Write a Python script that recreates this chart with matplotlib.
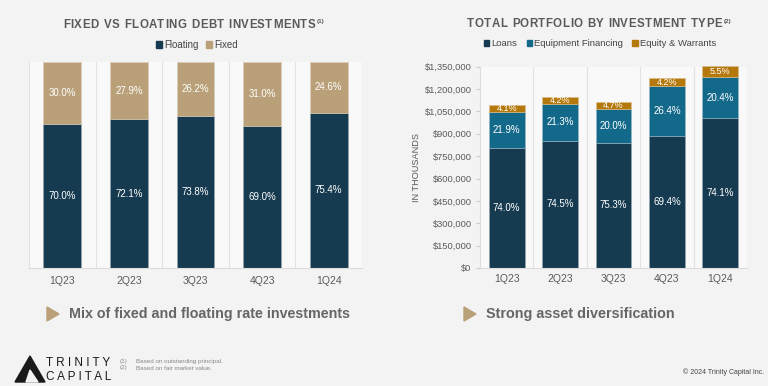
import matplotlib
matplotlib.use("Agg")
import matplotlib.pyplot as plt
from matplotlib.patches import Polygon, Patch

plt.rcParams['font.family'] = ['Liberation Sans', 'DejaVu Sans']

# ---- data ----
quarters = ["1Q23", "2Q23", "3Q23", "4Q23", "1Q24"]
floating_pct = [70.0, 72.1, 73.8, 69.0, 75.4]
fixed_pct = [30.0, 27.9, 26.2, 31.0, 24.6]

loans = [807, 855, 840, 883, 1003]           # $ thousands
equipment = [239, 244, 223, 336, 276]
equity = [45, 48, 52, 53, 74]
loans_pct = [74.0, 74.5, 75.3, 69.4, 74.1]
equipment_pct = [21.9, 21.3, 20.0, 26.4, 20.4]
equity_pct = [4.1, 4.2, 4.7, 4.2, 5.5]
y_ticks = [0, 150000, 300000, 450000, 600000, 750000, 900000, 1050000, 1200000, 1350000]

NAVY = "#163a4f"
TAN = "#b9a078"
TEAL = "#13698a"
GOLD = "#b5780b"
GRAY = "#5a5a5a"
BG = "#f3f3f3"

fig = plt.figure(figsize=(7.68, 3.86), dpi=100)
fig.patch.set_facecolor(BG)
renderer = fig.canvas.get_renderer()

def px(x, y):
    return x / 768, 1 - y / 386

def tracked(s, x_left, x_right, y, **kw):
    """Place characters one by one so the string spans x_left..x_right (pixels)."""
    widths = []
    for ch in s:
        t = fig.text(0, 0, ch if ch != " " else "n", **kw)
        w = t.get_window_extent(renderer).width
        if ch == " ":
            w *= 0.55
        widths.append(w)
        t.remove()
    extra = (x_right - x_left - sum(widths)) / (len(s) - 1)
    cx = x_left
    for ch, w in zip(s, widths):
        if ch != " ":
            fig.text(*px(cx, y), ch, ha="left", va="center", **kw)
        cx += w + extra

# ---- left chart ----
axL = fig.add_axes([29 / 768, (386 - 268) / 386, 333 / 768, 206 / 386])
axL.set_facecolor("#f9f9f9")
x = range(len(quarters))
axL.bar(x, floating_pct, width=0.57, color=NAVY, edgecolor="#9aa8b0", linewidth=0.4, label="Floating")
axL.bar(x, fixed_pct, width=0.57, bottom=floating_pct, color=TAN, edgecolor="#d8ccb4", linewidth=0.4, label="Fixed")
for i in x:
    axL.text(i, floating_pct[i] / 2, f"{floating_pct[i]:.1f}%", ha="center", va="center", color="white", fontsize=7)
    axL.text(i, floating_pct[i] + fixed_pct[i] / 2, f"{fixed_pct[i]:.1f}%", ha="center", va="center", color="white", fontsize=7)
axL.set_xlim(-0.5, 4.5)
axL.set_ylim(0, 100)
axL.set_yticks([])
axL.set_xticks(list(x))
axL.set_xticklabels(quarters, color=GRAY, fontsize=7.5)
axL.tick_params(axis="x", length=0, pad=6)
for b in [-0.5, 0.5, 1.5, 2.5, 3.5, 4.5]:
    axL.axvline(b, color="#e2e2e2", lw=0.8, zorder=0)
for s in ["top", "right", "left"]:
    axL.spines[s].set_visible(False)
axL.spines["bottom"].set_color("#dddddd")

# ---- right chart ----
axR = fig.add_axes([480 / 768, (386 - 268) / 386, 267 / 768, 201.3 / 386])
axR.set_facecolor("#f9f9f9")
kw = dict(width=0.67, linewidth=0.4, clip_on=False)
axR.bar(x, loans, color=NAVY, edgecolor="#9aa8b0", label="Loans", **kw)
axR.bar(x, equipment, bottom=loans, color=TEAL, edgecolor="#9ab8c4", label="Equipment Financing", **kw)
bot3 = [loans[i] + equipment[i] for i in x]
axR.bar(x, equity, bottom=bot3, color=GOLD, edgecolor="#d8c090", label="Equity & Warrants", **kw)
for i in x:
    axR.text(i, loans[i] / 2, f"{loans_pct[i]:.1f}%", ha="center", va="center", color="white", fontsize=7)
    axR.text(i, loans[i] + equipment[i] / 2, f"{equipment_pct[i]:.1f}%", ha="center", va="center", color="white", fontsize=7)
    axR.text(i, bot3[i] + equity[i] / 2, f"{equity_pct[i]:.1f}%", ha="center", va="center", color="white", fontsize=6.5)
axR.set_xlim(-0.5, 4.5)
axR.set_ylim(0, 1350)
axR.set_yticks([t / 1000 for t in y_ticks])
axR.set_yticklabels(["$" + f"{t:,}" for t in y_ticks], color=GRAY, fontsize=6.7)
axR.tick_params(axis="y", length=3, color="#cccccc", pad=3)
axR.set_xticks(list(x))
axR.set_xticklabels(quarters, color=GRAY, fontsize=7.5)
axR.tick_params(axis="x", length=0, pad=4)
for b in [0.5, 1.5, 2.5, 3.5, 4.5]:
    axR.axvline(b, color="#e2e2e2", lw=0.8, zorder=0)
for s in ["top", "right"]:
    axR.spines[s].set_visible(False)
axR.spines["left"].set_color("#dddddd")
axR.spines["bottom"].set_color("#dddddd")
axR.set_ylabel("IN THOUSANDS", color=GRAY, fontsize=6.6)
axR.yaxis.set_label_coords((421 - 480) / 267, 0.5)

# ---- titles and legends ----
tkw = dict(fontsize=8.3, fontweight="bold", color=GRAY)
tracked("FIXED VS FLOATING DEBT INVESTMENTS", 63, 315, 25, **tkw)
fig.text(*px(317, 22), "(1)", ha="left", va="center", fontsize=4.5, fontweight="bold", color=GRAY)
tracked("TOTAL PORTFOLIO BY INVESTMENT TYPE", 467, 722, 24, **tkw)
fig.text(*px(724, 21), "(2)", ha="left", va="center", fontsize=4.5, fontweight="bold", color=GRAY)

legL = fig.legend(handles=[Patch(color=NAVY, label="Floating"), Patch(color=TAN, label="Fixed")],
                  loc="center", bbox_to_anchor=px(197, 45), ncol=2, frameon=False, fontsize=7,
                  handlelength=0.6, handleheight=0.6, handletextpad=0.2, columnspacing=0.8)
for t in legL.get_texts():
    t.set_color("#444444")
legR = fig.legend(handles=[Patch(color=NAVY, label="Loans"), Patch(color=TEAL, label="Equipment Financing"),
                           Patch(color=GOLD, label="Equity & Warrants")],
                  loc="center", bbox_to_anchor=px(600, 44), ncol=3, frameon=False, fontsize=6.8,
                  handlelength=0.6, handleheight=0.6, handletextpad=0.2, columnspacing=1.0)
for t in legR.get_texts():
    t.set_color("#444444")

# ---- bottom callouts ----
for (x0, y0, label, fs) in [(47, 314, "Mix of fixed and floating rate investments", 10.3),
                            (464, 314, "Strong asset diversification", 10.4)]:
    tri = Polygon([px(x0, y0 - 7), px(x0, y0 + 7), px(x0 + 12, y0)], closed=True,
                  transform=fig.transFigure, color=TAN)
    fig.patches.append(tri)
    fig.text(*px(x0 + 22, y0), label, ha="left", va="center", fontsize=fs, fontweight="bold", color="#666666")

# ---- logo ----
logo = Polygon([px(15, 382), px(30, 356), px(45, 382)], closed=True, transform=fig.transFigure, color="#1a1a1a")
fig.patches.append(logo)
cut = Polygon([px(30, 370), px(38, 382), px(26, 382)], closed=True, transform=fig.transFigure, color=BG)
fig.patches.append(cut)
fig.text(*px(46, 363), "T R I N I T Y", ha="left", va="center", fontsize=8.5, color="#1a1a1a")
fig.text(*px(46, 377), "C A P I T A L", ha="left", va="center", fontsize=8.5, color="#1a1a1a")
fig.text(*px(120, 361), "(1)", ha="left", va="center", fontsize=4.5, color="#888888")
fig.text(*px(136, 361), "Based on outstanding principal.", ha="left", va="center", fontsize=4.5, color="#888888")
fig.text(*px(120, 368), "(2)", ha="left", va="center", fontsize=4.5, color="#888888")
fig.text(*px(136, 368), "Based on fair market value.", ha="left", va="center", fontsize=4.5, color="#888888")
fig.text(*px(764, 372), "\u00a9 2024 Trinity Capital Inc.", ha="right", va="center", fontsize=5, color="#444444")

fig.savefig("out.png", dpi=100, facecolor=BG)
